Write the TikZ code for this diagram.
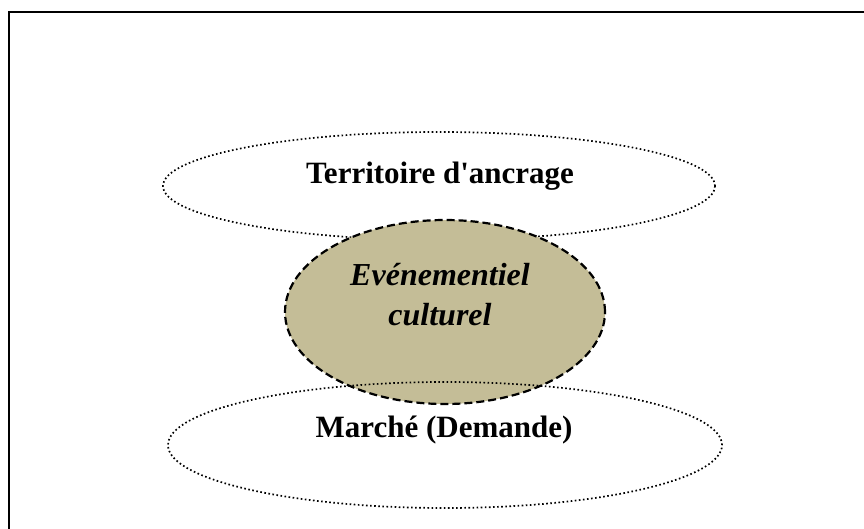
\documentclass[tikz,border=0pt]{standalone}
\usepackage{fontspec}
\setmainfont{Liberation Serif}
\usetikzlibrary{shapes.geometric}
\definecolor{tanfill}{RGB}{196,189,151}
\tikzset{
  dotell/.style={ellipse, draw=black, line width=1.7pt, dash pattern=on 1.6pt off 2.5pt, inner sep=0pt},
  centell/.style={ellipse, draw=black, fill=tanfill, line width=2.2pt, dash pattern=on 8pt off 4pt, inner sep=0pt},
  lbl/.style={anchor=base, inner sep=0pt, font=\fontsize{31}{36}\selectfont\bfseries},
  ilbl/.style={anchor=base, inner sep=0pt, font=\fontsize{32}{38}\selectfont\bfseries\itshape},
  frame/.style={line width=2.6pt, line cap=rect}
}
\begin{document}
\begin{tikzpicture}[x=1pt,y=-1pt]
\useasboundingbox (0,0) rectangle (864,528);
\coordinate (fbl) at (9,530);
\coordinate (ftl) at (9,12);
\coordinate (ftr) at (866,12);
\draw[frame] (fbl) -- (ftl) -- (ftr);
\node[dotell, minimum width=552pt, minimum height=108pt] (terr) at (439,186) {};
\node[centell, minimum width=320pt, minimum height=184pt] (event) at (445,312) {};
\node[dotell, minimum width=554pt, minimum height=126pt] (march) at (445,445) {};
\node[lbl] (tterr) at (440,183) {Territoire d\textquotesingle ancrage};
\node[ilbl] (tev1) at (440,285) {Evénementiel};
\node[ilbl] (tev2) at (440,325) {culturel};
\node[lbl] (tmar) at (444,437) {Marché (Demande)};
\end{tikzpicture}
\end{document}
